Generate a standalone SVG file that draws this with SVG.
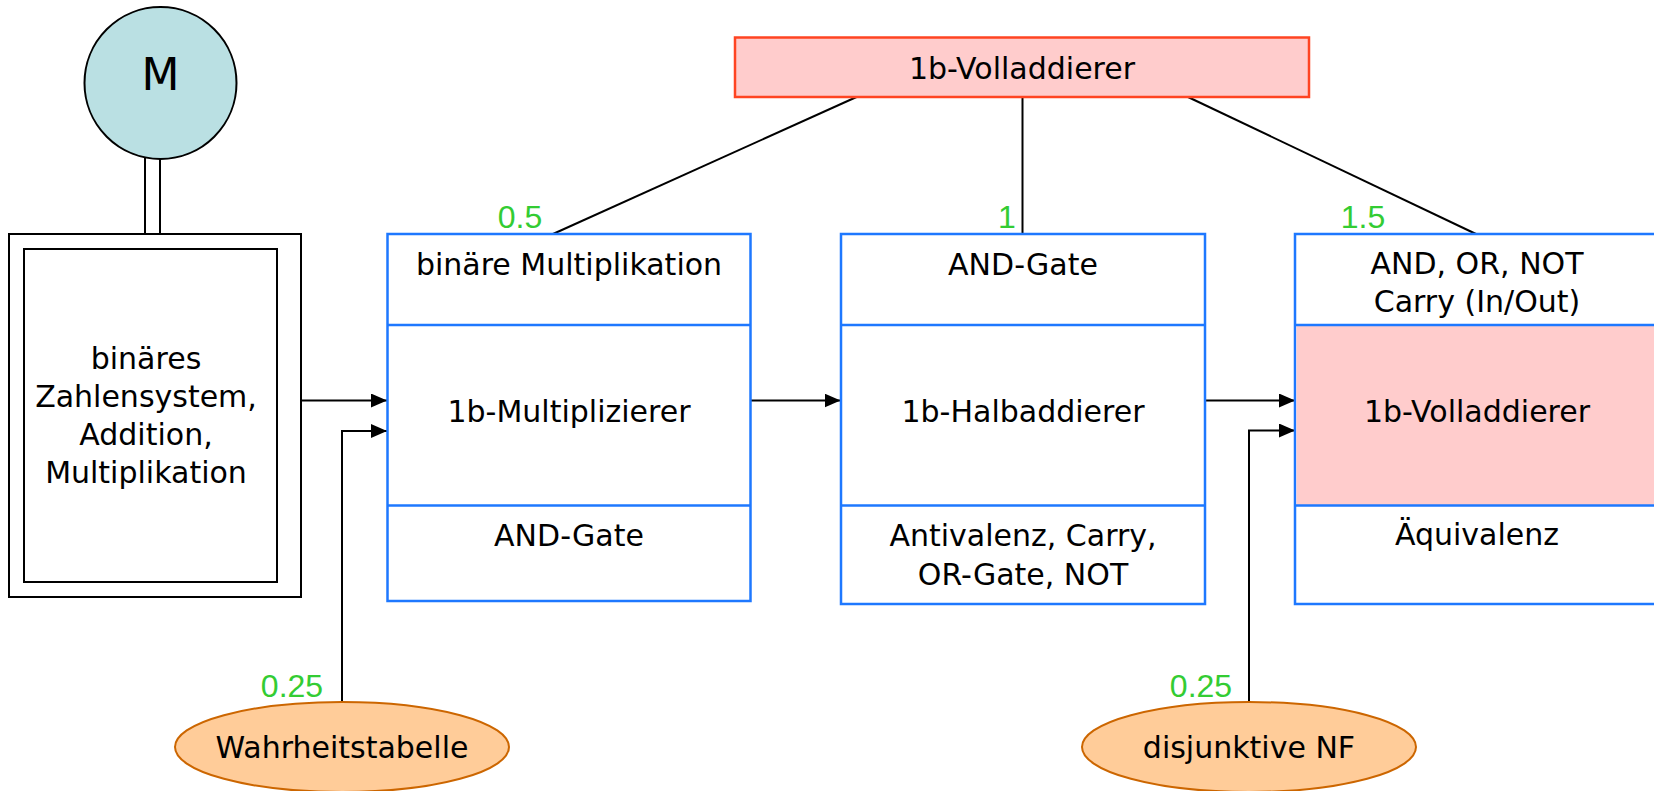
<svg xmlns="http://www.w3.org/2000/svg" width="1654" height="791" viewBox="0 0 1654 791">
<style>
  text { font-family: "DejaVu Sans", "Liberation Sans", sans-serif; font-size: 30px; fill: #000; text-anchor: middle; }
  .num { font-family: "Liberation Sans", Arial, sans-serif; font-size: 32px; fill: #33CC33; }
  .blue { fill: #fff; stroke: #1E78FF; stroke-width: 2.5; }
  .div { stroke: #1E78FF; stroke-width: 2.5; }
  .conn { stroke: #000; stroke-width: 2; fill: none; }
  .oval { fill: #FFCC99; stroke: #CC6600; stroke-width: 2; }
</style>
<defs>
  <marker id="arr" markerWidth="16" markerHeight="14" refX="16" refY="7" orient="auto" markerUnits="userSpaceOnUse">
    <path d="M0,0 L16,7 L0,14 z" fill="#000"/>
  </marker>
</defs>
<rect width="1654" height="791" fill="#fff"/>

<g id="connectors">
  <line class="conn" x1="145" y1="158" x2="145" y2="234"/>
  <line class="conn" x1="160" y1="158" x2="160" y2="234"/>
  <line class="conn" x1="856.5" y1="97" x2="553" y2="234"/>
  <line class="conn" x1="1022.5" y1="97" x2="1022.5" y2="234"/>
  <line class="conn" x1="1188" y1="97" x2="1476" y2="234"/>
  <line class="conn" x1="296" y1="400.5" x2="387" y2="400.5" marker-end="url(#arr)"/>
  <polyline class="conn" points="342,702 342,431 387,431" marker-end="url(#arr)"/>
  <line class="conn" x1="751" y1="400.5" x2="840.5" y2="400.5" marker-end="url(#arr)"/>
  <line class="conn" x1="1205" y1="400.5" x2="1295" y2="400.5" marker-end="url(#arr)"/>
  <polyline class="conn" points="1249,702 1249,430.5 1295,430.5" marker-end="url(#arr)"/>
</g>

<g id="node-M">
  <circle cx="160.5" cy="83" r="76" fill="#BAE0E3" stroke="#000" stroke-width="2"/>
  <text x="160.5" y="90" style="font-size:44px">M</text>
</g>

<g id="node-grundlagen">
  <rect x="9" y="234" width="292" height="363" fill="#fff" stroke="#000" stroke-width="2"/>
  <rect x="24" y="249" width="253" height="333" fill="#fff" stroke="#000" stroke-width="2"/>
  <text x="146" y="369">binäres</text>
  <text x="146" y="407">Zahlensystem,</text>
  <text x="146" y="445">Addition,</text>
  <text x="146" y="483">Multiplikation</text>
</g>

<g id="node-volladdierer-top">
  <rect x="735" y="37.5" width="574" height="59.5" fill="#FFCCCC" stroke="#FF4422" stroke-width="2.5"/>
  <text x="1022" y="79">1b-Volladdierer</text>
</g>

<g id="node-multiplizierer">
  <rect class="blue" x="387.5" y="234" width="363" height="367"/>
  <line class="div" x1="387.5" y1="325" x2="750.5" y2="325"/>
  <line class="div" x1="387.5" y1="505.5" x2="750.5" y2="505.5"/>
  <text x="569" y="275">binäre Multiplikation</text>
  <text x="569" y="422">1b-Multiplizierer</text>
  <text x="569" y="546">AND-Gate</text>
  <text class="num" x="520" y="228">0.5</text>
</g>

<g id="node-halbaddierer">
  <rect class="blue" x="841" y="234" width="364" height="370"/>
  <line class="div" x1="841" y1="325" x2="1205" y2="325"/>
  <line class="div" x1="841" y1="505.5" x2="1205" y2="505.5"/>
  <text x="1023" y="275">AND-Gate</text>
  <text x="1023" y="422">1b-Halbaddierer</text>
  <text x="1023" y="546">Antivalenz, Carry,</text>
  <text x="1023" y="585">OR-Gate, NOT</text>
  <text class="num" x="1007" y="228">1</text>
</g>

<g id="node-volladdierer">
  <rect class="blue" x="1295" y="234" width="370" height="370"/>
  <rect x="1296.5" y="325" width="365" height="180.5" fill="#FFCCCC"/>
  <line class="div" x1="1295" y1="325" x2="1665" y2="325"/>
  <line class="div" x1="1295" y1="505.5" x2="1665" y2="505.5"/>
  <text x="1477" y="274">AND, OR, NOT</text>
  <text x="1477" y="312">Carry (In/Out)</text>
  <text x="1477" y="422">1b-Volladdierer</text>
  <text x="1477" y="545">Äquivalenz</text>
  <text class="num" x="1363" y="228">1.5</text>
</g>

<g id="node-wahrheitstabelle">
  <ellipse class="oval" cx="342" cy="747" rx="167" ry="45"/>
  <text x="342" y="758">Wahrheitstabelle</text>
  <text class="num" x="292" y="697">0.25</text>
</g>

<g id="node-dnf">
  <ellipse class="oval" cx="1249" cy="747" rx="167" ry="45"/>
  <text x="1249" y="758">disjunktive NF</text>
  <text class="num" x="1201" y="697">0.25</text>
</g>
</svg>
